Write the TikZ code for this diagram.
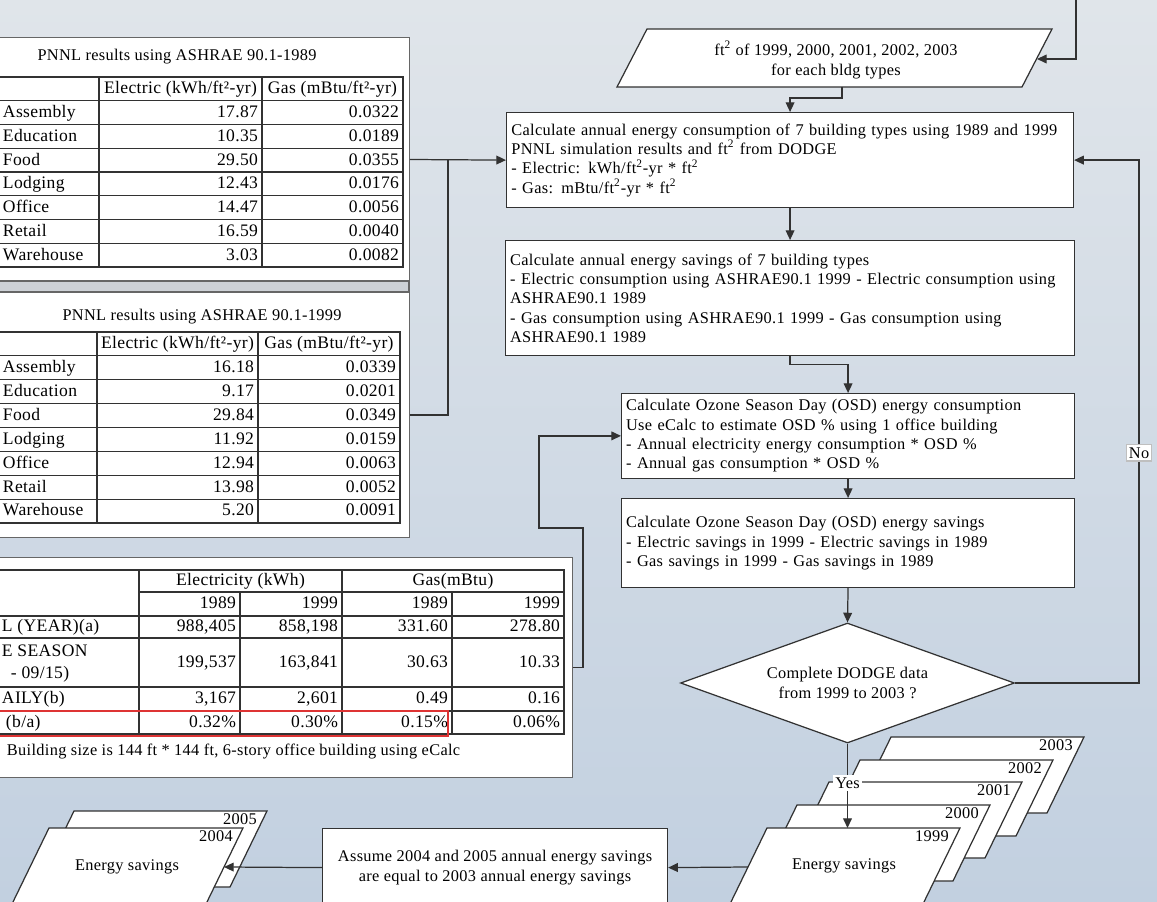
\documentclass[tikz,border=0pt]{standalone}
\usepackage{fontspec}
\setmainfont{Liberation Serif}[LetterSpace=2]
\usetikzlibrary{arrows.meta,shapes.geometric}
\definecolor{bgtop}{RGB}{224,229,234}
\definecolor{bgbot}{RGB}{194,208,224}
\definecolor{linegray}{RGB}{50,50,50}
\definecolor{bandgray}{RGB}{205,209,214}
\definecolor{markred}{RGB}{222,52,52}
\newcommand{\boxsize}{\fontsize{9.3}{11}\selectfont}
\newcommand{\cellsize}{\fontsize{10}{12}\selectfont}
\tikzset{
  arr/.style={draw=linegray, line width=0.7pt, -{Triangle[length=5.5pt,width=5pt]}},
  link/.style={draw=linegray, line width=0.7pt},
  procbox/.style={draw=linegray, fill=white, line width=0.7pt, anchor=north west,
    align=left, inner xsep=2.5pt, font=\boxsize},
  panel/.style={draw=gray!80!black, fill=white, line width=0.6pt, anchor=north west, inner sep=0pt},
  tabrule/.style={draw=linegray, line width=0.6pt},
  slant/.style={draw=linegray, fill=white, line width=0.7pt},
  cell/.style={inner sep=1.5pt, font=\cellsize, text height=1.6ex, text depth=0.4ex},
  yearlbl/.style={anchor=north east, inner sep=1pt, font=\boxsize},
  flaglbl/.style={fill=white, inner sep=1.5pt, font=\boxsize},
}
\begin{document}
\begin{tikzpicture}[x=0.02cm, y=-0.02cm]
  \useasboundingbox (0,0) rectangle (1157,902);
  \shade[top color=bgtop, bottom color=bgbot] (0,0) rectangle (1157,902);

  \node[panel, minimum width=8.22cm, minimum height=4.88cm] (pnl89) at (-2,37) {};
  \node[panel, minimum width=8.22cm, minimum height=4.9cm] (pnl99) at (-2,292) {};
  \filldraw[fill=bandgray, draw=gray!80!black, line width=0.6pt] (-2,281) rectangle (409,292);

  \node[font=\boxsize] (t89title) at (177,57) {PNNL results using  ASHRAE 90.1-1989};
  \draw[tabrule] (-2,77) rectangle (403,267);
  \foreach \i in {1,...,7} \draw[tabrule] (-2,77+\i*23.75) -- (403,77+\i*23.75);
  \draw[tabrule] (99,77) -- (99,267) (262,77) -- (262,267);
  \node[cell] (t89el) at (180.5,89) {Electric (kWh/ft²-yr)};
  \node[cell] (t89gs) at (332.5,89) {Gas (mBtu/ft²-yr)};
  \foreach \nm/\el/\gs [count=\i] in {Assembly/17.87/0.0322, Education/10.35/0.0189,
      Food/29.50/0.0355, Lodging/12.43/0.0176, Office/14.47/0.0056,
      Retail/16.59/0.0040, Warehouse/3.03/0.0082} {
    \node[cell, anchor=west] (t89n\i) at (0,89+\i*23.75) {\nm};
    \node[cell, anchor=east] (t89e\i) at (261,89+\i*23.75) {\el};
    \node[cell, anchor=east] (t89g\i) at (402,89+\i*23.75) {\gs};
  }

  \node[font=\boxsize] (t99title) at (202,317) {PNNL results using  ASHRAE 90.1-1999};
  \draw[tabrule] (-2,332) rectangle (400,523);
  \foreach \i in {1,...,7} \draw[tabrule] (-2,332+\i*23.875) -- (400,332+\i*23.875);
  \draw[tabrule] (97,332) -- (97,523) (258,332) -- (258,523);
  \node[cell] (t99el) at (177.5,344) {Electric (kWh/ft²-yr)};
  \node[cell] (t99gs) at (329,344) {Gas (mBtu/ft²-yr)};
  \foreach \nm/\el/\gs [count=\i] in {Assembly/16.18/0.0339, Education/9.17/0.0201,
      Food/29.84/0.0349, Lodging/11.92/0.0159, Office/12.94/0.0063,
      Retail/13.98/0.0052, Warehouse/5.20/0.0091} {
    \node[cell, anchor=west] (t99n\i) at (0,344+\i*23.875) {\nm};
    \node[cell, anchor=east] (t99e\i) at (257,344+\i*23.875) {\el};
    \node[cell, anchor=east] (t99g\i) at (399,344+\i*23.875) {\gs};
  }

  \node[panel, minimum width=11.48cm, minimum height=4.4cm] (pnlcalc) at (-2,557) {};
  \draw[tabrule] (-2,570) rectangle (564,734);
  \draw[tabrule] (139,592) -- (564,592);
  \foreach \yy in {616,638,687,711} \draw[tabrule] (-2,\yy) -- (564,\yy);
  \draw[tabrule] (139,570) -- (139,734) (342,570) -- (342,734)
    (240,592) -- (240,734) (452,592) -- (452,734);
  \node[cell] (hdel) at (240.5,581) {Electricity (kWh)};
  \node[cell] (hdgs) at (453,581) {Gas(mBtu)};
  \foreach \yy/\ea/\eb/\ga/\gb [count=\r] in {604/1989/1999/1989/1999,
      627/{988,405}/{858,198}/331.60/278.80, 662.5/{199,537}/{163,841}/30.63/10.33,
      699/{3,167}/{2,601}/0.49/0.16, 722.5/0.32\%/0.30\%/0.15\%/0.06\%} {
    \node[cell, anchor=east] (ce\r) at (239,\yy) {\ea};
    \node[cell, anchor=east] (cf\r) at (341,\yy) {\eb};
    \node[cell, anchor=east] (cg\r) at (451,\yy) {\ga};
    \node[cell, anchor=east] (ch\r) at (563,\yy) {\gb};
  }
  \node[cell, anchor=west] (rtot) at (-1,627) {L (YEAR)(a)};
  \node[cell, anchor=west] (rozn) at (-1,652) {E SEASON};
  \node[cell, anchor=west] (rozndate) at (8,674) {- 09/15)};
  \node[cell, anchor=west] (rday) at (-1,699) {AILY(b)};
  \node[cell, anchor=west] (rpct) at (3,722.5) {(b/a)};
  \draw[markred, line width=1pt] (-2,711) rectangle (448,736);
  \node[font=\boxsize, anchor=west, inner sep=1.5pt] (fnote) at (4,752)
    {Building size is 144 ft * 144 ft, 6-story office building using eCalc};

  \filldraw[slant] (647,29) -- (1052,29) -- (1022,87) -- (617,87) -- cycle;
  \node[font=\boxsize, align=center] (sqft) at (836,60)
    {ft\textsuperscript{2} of 1999, 2000, 2001, 2002, 2003\\for each bldg types};
  \coordinate (feed) at (1076,0);
  \coordinate (sqftin) at (1037,59);
  \coordinate (sqftout) at (842,87);

  \node[procbox, minimum width=11.34cm, minimum height=1.9cm, text width=11.15cm] (calc) at (506,112)
    {Calculate annual energy consumption of 7 building types  using 1989 and 1999\\
     PNNL simulation results and ft\textsuperscript{2} from DODGE\\
     - Electric: kWh/ft\textsuperscript{2}-yr * ft\textsuperscript{2}\\
     - Gas: mBtu/ft\textsuperscript{2}-yr *  ft\textsuperscript{2}};
  \node[procbox, minimum width=11.38cm, minimum height=2.3cm, text width=11.2cm] (saving) at (505,240)
    {Calculate annual energy savings of 7 building types\\
     - Electric consumption using ASHRAE90.1 1999 - Electric consumption  using\\
     ASHRAE90.1 1989\\
     - Gas consumption  using ASHRAE90.1 1999 - Gas consumption  using\\
     ASHRAE90.1 1989};
  \node[procbox, minimum width=9.06cm, minimum height=1.6cm, text width=8.88cm] (osdcons) at (621,393)
    {Calculate Ozone Season Day (OSD) energy consumption\\
     Use eCalc to estimate OSD \% using 1 office building\\
     - Annual electricity energy consumption * OSD \%\\
     - Annual  gas consumption * OSD \%};
  \node[procbox, minimum width=9.06cm, minimum height=1.78cm, text width=8.88cm] (osdsave) at (621,498)
    {Calculate Ozone Season Day (OSD) energy savings\\
     - Electric savings in 1999 - Electric  savings in 1989\\
     - Gas savings in 1999 - Gas savings in 1989};
  \node[draw=linegray, fill=white, line width=0.7pt, diamond, aspect=2.8, minimum width=6.68cm,
    minimum height=2.4cm, inner sep=0pt, align=center, font=\boxsize] (dodge) at (847.5,683)
    {Complete DODGE data\\from 1999 to 2003 ?};

  \foreach \yr/\px/\py in {2003/891/737, 2002/860/760, 2001/829/782, 2000/797/805, 1999/767/828} {
    \filldraw[slant] (\px,\py) -- ++(193,0) -- ++(-37,76) -- ++(-193,0) -- cycle;
    \node[yearlbl] (yr\yr) at (\px+184,\py+1) {\yr};
  }
  \node[font=\boxsize] (esave) at (844,866) {Energy savings};
  \coordinate (stacktop) at (847.5,828);
  \coordinate (stackleft) at (748,867);

  \node[draw=linegray, fill=white, line width=0.7pt, anchor=north west, minimum width=6.9cm,
    minimum height=1.56cm, align=center, font=\boxsize] (assume) at (322,828)
    {Assume 2004 and 2005 annual energy savings\\are equal to 2003  annual  energy savings};

  \filldraw[slant] (74,811) -- ++(193,0) -- ++(-37,76) -- ++(-193,0) -- cycle;
  \node[yearlbl] (yr2005) at (259,812) {2005};
  \filldraw[slant] (49,828) -- ++(194,0) -- ++(-37,76) -- ++(-194,0) -- cycle;
  \node[yearlbl] (yr2004) at (235,829) {2004};
  \node[font=\boxsize] (esavepair) at (127,867) {Energy savings};
  \coordinate (pairright) at (224,867);

  \coordinate (merge) at (448,159.5);
  \coordinate (bend) at (539,528);
  \draw[arr] (feed) |- (sqftin);
  \draw[arr] (sqftout) -- ++(0,11) -| (calc.north);
  \draw[arr] (pnl89.east) -- (calc.west);
  \draw[link] (pnl99.east) -| (merge);
  \draw[arr] (pnlcalc.east) -- ++(10,0) |- (bend) |- (osdcons.west);
  \draw[arr] (calc.south) -- (saving.north);
  \draw[arr] (saving.south) -- ++(0,8) -| (osdcons.north);
  \draw[arr] (osdcons.south) -- (osdsave.north);
  \draw[arr] (osdsave.south) -- (dodge.north);
  \draw[arr] (dodge.east) -- ++(124,0) |- (calc.east)
    node[pos=0.22, flaglbl, draw=gray!50] (nolbl) {No};
  \draw[arr] (dodge.south) -- (stacktop)
    node[pos=0.47, flaglbl] (yeslbl) {Yes};
  \draw[arr] (stackleft) -- (assume.east);
  \draw[arr] (assume.west) -- (pairright);
\end{tikzpicture}
\end{document}
